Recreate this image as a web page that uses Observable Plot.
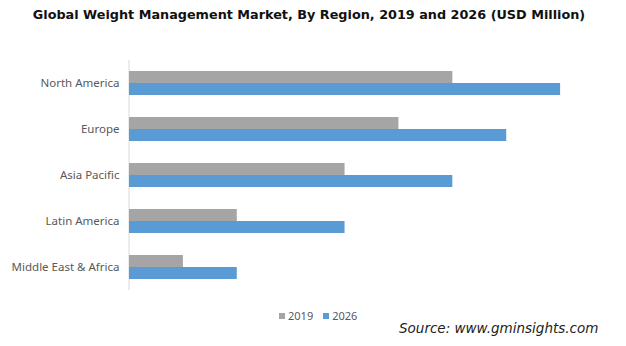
<!DOCTYPE html>
<html><head><meta charset="utf-8">
<script src="https://cdn.jsdelivr.net/npm/d3@7"></script>
<script src="https://cdn.jsdelivr.net/npm/@observablehq/plot@0.6"></script>
<style>
body{margin:0;background:#fff;}
#wrap{position:relative;width:626px;height:346px;overflow:hidden;}
#title{position:absolute;left:0;top:7px;width:618px;text-align:center;font:bold 12.8px "DejaVu Sans",sans-serif;color:#111;white-space:nowrap;}
#legend{position:absolute;left:279px;top:308px;font:11px "Noto Sans",sans-serif;color:#595959;white-space:nowrap;}
#legend span.sw{display:inline-block;width:6px;height:6px;margin-right:3px;vertical-align:1px;}
#legend span.it{margin-right:10px;}
#source{position:absolute;left:399px;top:320px;font:italic 13.5px "DejaVu Sans",sans-serif;color:#222;white-space:nowrap;}
#chart{position:absolute;left:0;top:0;}
</style></head>
<body><div id="wrap">
<div id="chart"></div>
<div id="title">Global Weight Management Market, By Region, 2019 and 2026 (USD Million)</div>
<div id="legend"></div>
<div id="source">Source: www.gminsights.com</div>
</div>
<script>
const regions = ["North America", "Europe", "Asia Pacific", "Latin America", "Middle East & Africa"];
const years = ["2019", "2026"];
const values2019 = [3000, 2500, 2000, 1000, 500];
const values2026 = [4000, 3500, 3000, 2000, 1000];
const colors = ["#A5A5A5", "#5B9BD5"];

const d19 = regions.map((r, i) => ({region: r, value: values2019[i]}));
const d26 = regions.map((r, i) => ({region: r, value: values2026[i]}));

const plot = Plot.plot({
  width: 626,
  height: 346,
  marginTop: 60,
  marginBottom: 56,
  marginLeft: 129,
  marginRight: 12,
  style: {fontFamily: "Noto Sans, sans-serif", fontSize: "11.5px", color: "#595959", background: "white"},
  x: {domain: [0, 4500], axis: null},
  y: {domain: regions, paddingInner: 0.48, paddingOuter: 0.24, label: null, tickSize: 0, tickPadding: 10},
  marks: [
    Plot.ruleX([0], {stroke: "#d9d9d9", strokeWidth: 1, dx: -0.5}),
    Plot.barX(d19, {y: "region", x: "value", fill: colors[0], insetBottom: 12}),
    Plot.barX(d26, {y: "region", x: "value", fill: colors[1], insetTop: 12}),
    Plot.axisY({tickSize: 0, tickPadding: 10, label: null, fill: "#595959"})
  ]
});
document.getElementById("chart").appendChild(plot);

const leg = document.getElementById("legend");
years.forEach((y, i) => {
  const it = document.createElement("span");
  it.className = "it";
  it.innerHTML = `<span class="sw" style="background:${colors[i]}"></span>${y}`;
  leg.appendChild(it);
});
</script>
</body></html>
